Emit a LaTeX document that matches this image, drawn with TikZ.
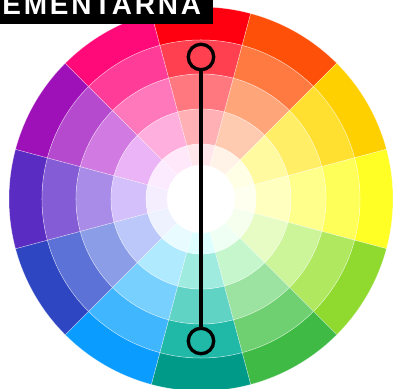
\documentclass[tikz,border=0pt]{standalone}
\usepackage{fontspec}
\newfontfamily\titlefont[LetterSpace=10]{Liberation Sans}

\begin{document}
\begin{tikzpicture}[
    x=0.02cm, y=0.02cm,
    marker/.style={circle, draw=black, line width=1.9pt, minimum size=0.51cm, inner sep=0pt},
    seg/.style={draw=white, draw opacity=0.45, line width=0.3pt},
    title/.style={text=white, font=\titlefont\bfseries\fontsize{15.9}{18}\selectfont, inner sep=0pt, anchor=base west}
]
    \clip (0,0) rectangle (393,389);

    % colour wheel: 12 sectors, 5 rings (outer -> inner)
    \begin{scope}[shift={(201,190)}]
    \foreach \a/\ca/\cb/\cc/\cd/\ce in {
        90/FF0010/FF4050/FF7880/FFB0B5/FFE6EA,
        60/FF500A/FF7A40/FFA57A/FFCBB0/FFF3E8,
        30/FFD000/FFE030/FFEE66/FFF9A0/FFFFE6,
        0/FFFF25/FFFF5A/FFFF8C/FFFFC0/FFFFF0,
        -30/90DA30/B0E860/CCF59A/E6FCC4/F6FFEE,
        -60/3EBA45/6ED070/9CE2A0/C6F7CC/F0FFF3,
        -90/009B88/20B8A6/60D3C5/A0EBE0/DEFFFF,
        -120/0A9CFF/40B6FF/78D0FF/B0EAFF/E8FCFF,
        -150/2E46C2/5C72D6/8C9DE8/BCC8FA/EEF2FF,
        180/5A2CC2/845CD6/A88CE8/D4C0FA/F5EEFF,
        150/9E10B8/B54ACF/D07AE2/EAB4F6/FCEBFF,
        120/FF0A78/FF3C98/FF78BC/FFAFDD/FFE8F9}
    {
        \foreach \rin/\rout/\c in {159/192/\ca, 125/159/\cb, 90/125/\cc, 55/90/\cd, 34/55/\ce}
        {
            \definecolor{segfill}{HTML}{\c}
            \filldraw[seg, fill=segfill] (\a-15:\rin) arc[start angle=\a-15, end angle=\a+15, radius=\rin]
                -- (\a+15:\rout) arc[start angle=\a+15, end angle=\a-15, radius=\rout] -- cycle;
        }
    }
    \end{scope}

    % complementary pair
    \node[marker] (top) at (201,332) {};
    \node[marker] (bottom) at (201,48) {};
    \draw[line width=1.9pt] (top) -- (bottom);

    % title tab
    \fill[black] (0,365) rectangle (213,400);
    \node[title] (title) at (2,374) {EMENTARNA};
\end{tikzpicture}
\end{document}
